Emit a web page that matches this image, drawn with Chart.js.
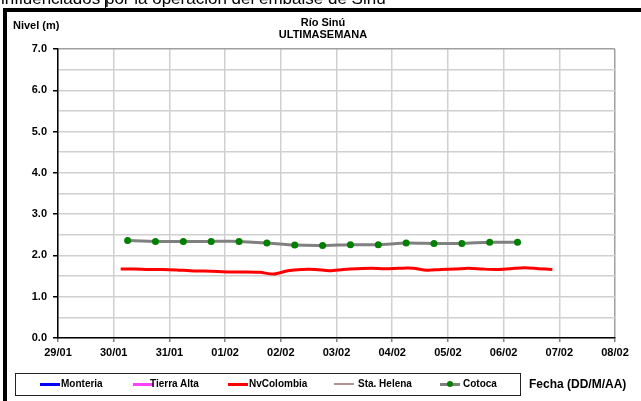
<!DOCTYPE html>
<html>
<head>
<meta charset="utf-8">
<script src="https://cdn.jsdelivr.net/npm/chart.js@4.4.1/dist/chart.umd.min.js"></script>
<style>
  html,body{margin:0;padding:0;background:#fff;}
  body{width:641px;height:401px;position:relative;overflow:hidden;font-family:"Liberation Sans",Arial,sans-serif;}
  #wrap{position:absolute;left:0;top:0;width:641px;height:401px;}
  .t{position:absolute;white-space:nowrap;font-weight:bold;color:#000;line-height:1;}
  #toptext{position:absolute;left:1px;top:-10px;font-size:17px;line-height:17px;white-space:nowrap;color:#000;}
  #barTop{position:absolute;left:3px;top:8px;width:638px;height:4px;background:#000;}
  #barLeft{position:absolute;left:3px;top:8px;width:4px;height:393px;background:#000;}
  #cursor{position:absolute;left:105px;top:0;width:1px;height:9px;background:#000;}
  #legend{position:absolute;left:15px;top:373px;width:504px;height:21px;border:1px solid #222;}
  .lg{position:absolute;top:0;height:21px;}
</style>
</head>
<body>
<div id="wrap"><canvas id="c" width="641" height="401"></canvas></div>
<div id="toptext">influenciados por la operación del embalse de Sinú</div>
<div id="cursor"></div>
<div id="barTop"></div>
<div id="barLeft"></div>
<div class="t" style="left:13px;top:20px;font-size:11px;">Nivel (m)</div>
<div class="t" style="left:0;width:646px;text-align:center;top:17px;font-size:11px;">Río Sinú</div>
<div class="t" style="left:0;width:646px;text-align:center;top:29px;font-size:11px;">ULTIMASEMANA</div>
<div id="legend"></div>
<div class="t" style="left:529px;top:378px;font-size:12px;">Fecha (DD/M/AA)</div>
<script>
// ---- data ----
const dayLabels = ['29/01','30/01','31/01','01/02','02/02','03/02','04/02','05/02','06/02','07/02','08/02'];
const seriesNames = ['Monteria','Tierra Alta','NvColombia','Sta. Helena','Cotoca'];
const seriesColors = ['#0000ff','#ff40ff','#ff0000','#b09090','#808080'];

// hours counted from 29/01 00:00
const nvColombiaStartHour = 27;   // 30/01 03:00
const nvColombiaStepHours = 6;
const nvColombiaValues = [1.67,1.67,1.66,1.66,1.65,1.63,1.62,1.61,1.60,1.60,1.59,1.55,
  1.63,1.66,1.66,1.63,1.66,1.68,1.69,1.68,1.69,1.69,1.64,1.66,1.67,1.69,1.67,1.66,1.68,1.70,1.68,1.66];

const cotocaStartHour = 30;       // 30/01 06:00
const cotocaStepHours = 12;
const cotocaValues = [2.36,2.34,2.34,2.34,2.34,2.30,2.25,2.24,2.26,2.26,2.30,2.29,2.29,2.32,2.32];

const monteriaValues = [];
const tierraAltaValues = [];
const staHelenaValues = [];

const yTickMin = 0, yTickMax = 7, yGridStep = 0.5;

// ---- build ----
function toPoints(vals, start, step){
  return vals.map((v,i)=>({x:(start+i*step)/24, y:v}));
}

const datasets = [
  {label:seriesNames[0], data:monteriaValues, borderColor:seriesColors[0], borderWidth:3, pointRadius:0},
  {label:seriesNames[1], data:tierraAltaValues, borderColor:seriesColors[1], borderWidth:3, pointRadius:0},
  {label:seriesNames[3], data:staHelenaValues, borderColor:seriesColors[3], borderWidth:2, pointRadius:0},
  {label:seriesNames[4], data:toPoints(cotocaValues,cotocaStartHour,cotocaStepHours), borderColor:seriesColors[4], borderWidth:3,
    pointRadius:3.5, pointBackgroundColor:'#008000', pointBorderColor:'#008000', pointBorderWidth:0, tension:0.2},
  {label:seriesNames[2], data:toPoints(nvColombiaValues,nvColombiaStartHour,nvColombiaStepHours), borderColor:seriesColors[2], borderWidth:3,
    pointRadius:0, tension:0.3}
];

const FONT = {family:'"Liberation Sans", Arial, sans-serif', size:11, weight:'bold'};

new Chart(document.getElementById('c'), {
  type:'line',
  data:{datasets},
  options:{
    responsive:false,
    animation:false,
    layout:{padding:{left:0,top:49,right:26,bottom:0}},
    plugins:{legend:{display:false}, title:{display:false}, tooltip:{enabled:false}},
    scales:{
      x:{
        type:'linear', min:0, max:dayLabels.length-1,
        afterFit:(s)=>{ s.height = 63; },
        ticks:{stepSize:1, autoSkip:false, maxRotation:0, color:'#000', font:FONT, padding:4,
          callback:(v)=> (Number.isInteger(v) ? dayLabels[v] : '')},
        grid:{color:(ctx)=> (ctx.index===dayLabels.length-1 ? '#a0a0a0' : '#d0d0d0'), lineWidth:1.5, tickLength:4, tickColor:'#808080'},
        border:{color:'#000', width:1.5}
      },
      y:{
        min:yTickMin, max:yTickMax,
        afterFit:(s)=>{ s.width = 58; },
        ticks:{stepSize:yGridStep, autoSkip:false, color:'#000', font:FONT, padding:6,
          callback:(v)=> (Math.abs(v%1)<1e-9 ? v.toFixed(1) : '')},
        grid:{color:(ctx)=> (ctx.tick && ctx.tick.value===yTickMax ? '#a0a0a0' : '#d0d0d0'), lineWidth:1.5, tickLength:5,
          tickColor:(ctx)=> (ctx.tick && Math.abs(ctx.tick.value%1)<1e-9 ? '#000' : 'rgba(0,0,0,0)')},
        border:{color:'#000', width:1.5}
      }
    }
  }
});

// ---- legend (HTML) ----
const legendLineX = [24, 117, 212, 318, 424];
const legendTextX = [45, 134, 233, 342, 447];
const lg = document.getElementById('legend');
seriesNames.forEach((n,i)=>{
  const line = document.createElement('div');
  line.className='lg';
  line.style.left = legendLineX[i]+'px';
  line.style.width='20px';
  line.innerHTML = '<div style="position:absolute;left:0;top:'+(i===3?9:8.5)+'px;width:20px;height:'+(i===3?2:3)+'px;background:'+seriesColors[i]+'"></div>' +
    (i===4 ? '<div style="position:absolute;left:7px;top:7px;width:6px;height:6px;border-radius:3px;background:#008000"></div>' : '');
  lg.appendChild(line);
  const t = document.createElement('div');
  t.className='t';
  t.style.left = legendTextX[i]+'px';
  t.style.top = '5px';
  t.style.fontSize = '10px';
  t.textContent = n;
  lg.appendChild(t);
});
</script>
</body>
</html>
